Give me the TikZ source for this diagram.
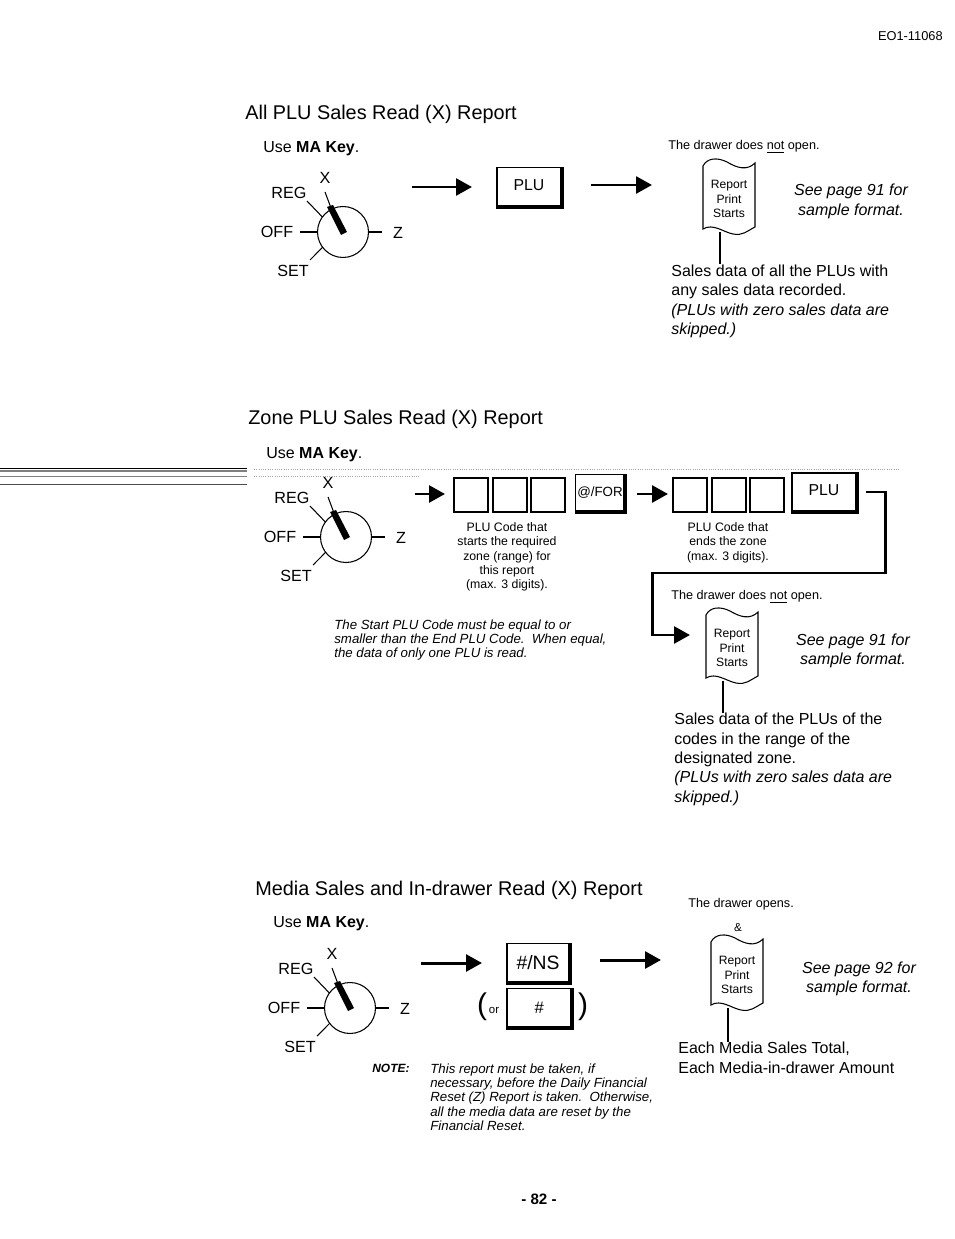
\documentclass[tikz,border=0pt]{standalone}
\usepackage{fontspec}
\setmainfont{Liberation Sans}
\usetikzlibrary{arrows.meta}

\tikzset{
  heading/.style={inner sep=0pt,anchor=west,font=\fontsize{11.3}{13}\selectfont},
  body/.style={inner sep=0pt,anchor=north west,align=left,font=\fontsize{9.1}{11}\selectfont},
  tiny/.style={inner sep=0pt,anchor=west,font=\fontsize{7.2}{8.1}\selectfont},
  codenote/.style={inner sep=0pt,anchor=north,align=center,font=\fontsize{7}{8.1}\selectfont},
  slanted/.style={inner sep=0pt,anchor=north west,align=left,font=\fontsize{7.55}{8.1}\selectfont\itshape},
  seepage/.style={inner sep=0pt,align=center,font=\fontsize{9.1}{11}\selectfont\itshape},
  digit/.style={draw,line width=0.7pt,minimum width=0.68cm,minimum height=0.68cm,inner sep=0pt},
  keycap/.style={draw,line width=0.8pt,inner sep=0pt,font=\fontsize{9}{11}\selectfont},
  plukey/.style={keycap,minimum width=1.28cm,text height=6.5pt,text depth=2.5pt},
  keyshade/.style={line width=2.2pt},
  flow/.style={line width=1.7pt,-{Triangle[length=9pt,width=9.5pt]}},
  pics/keydial/.style={code={
    \node[draw,circle,line width=0.6pt,outer sep=0pt,minimum size=1.02cm,inner sep=0pt] (-dial) at (0,0) {};
    \fill (-2,3) -- (-16,-25) -- (-10,-27) -- (4,0) -- cycle;
    \draw[line width=0.6pt] (-12,-24) -- (-18,-40);
    \draw[line width=0.6pt] (-dial.144) -- (-36,-31);
    \draw[line width=0.6pt] (-dial.180) -- (-43,0);
    \draw[line width=0.6pt] (-dial.0) -- (39,0);
    \draw[line width=0.6pt] (-dial.217) -- (-33,28);
    \node[inner sep=0pt,font=\fontsize{9.2}{11}\selectfont] (-x) at (-18,-54) {X};
    \node[inner sep=0pt,font=\fontsize{9.2}{11}\selectfont] (-reg) at (-54,-39) {REG};
    \node[inner sep=0pt,font=\fontsize{9.2}{11}\selectfont] (-off) at (-66,0) {OFF};
    \node[inner sep=0pt,font=\fontsize{9.2}{11}\selectfont] (-z) at (55,1) {Z};
    \node[inner sep=0pt,font=\fontsize{9.2}{11}\selectfont] (-set) at (-50,39) {SET};
  }},
  pics/printslip/.style={code={
    \draw[line width=0.6pt] (0,6) .. controls (4,-2) and (14,-3) .. (24,2)
      .. controls (34,8) and (44,11) .. (52,3) -- (52,67)
      .. controls (44,71) and (40,76) .. (30,74)
      .. controls (20,72) and (10,63) .. (0,69) -- cycle;
    \node[inner sep=0pt,align=center,font=\fontsize{6.9}{8.1}\selectfont] (-txt) at (26,39) {Report\\Print\\Starts};
  }}
}

\begin{document}
\begin{tikzpicture}[x=0.02cm,y=-0.02cm]
\useasboundingbox (0,0) rectangle (954,1239);
\fill[white] (0,0) rectangle (954,1239);

% page furniture
\node[inner sep=0pt,anchor=east,font=\fontsize{7.3}{8}\selectfont] (docno) at (943,36) {EO1-11068};
\node[inner sep=0pt,font=\fontsize{8.6}{10}\selectfont\bfseries] (pageno) at (539,1199) {- 82 -};

% scan lines on the left
\draw[line width=0.5pt] (0,468.5) -- (247,468.5);
\draw[gray,line width=0.9pt] (0,471) -- (247,471);
\draw[gray,line width=0.4pt] (0,476) -- (247,476);
\draw[line width=0.4pt,black!70] (0,484) -- (247,484);
\draw[black!35,line width=0.3pt,densely dotted] (254,469) -- (900,469);
\draw[black!35,line width=0.3pt,densely dotted] (254,476) -- (420,476);

% all plu report
\node[heading] (titlea) at (245,114) {All PLU Sales Read (X) Report};
\node[body,anchor=west] (usea) at (263,149) {Use \textbf{MA Key}.};
\pic (diala) at (343,232) {keydial};
\coordinate (a0) at (412,187);
\coordinate (a1) at (472,187);
\draw[flow] (a0) -- (a1);
\node[plukey,minimum height=0.78cm] (plua) at (529,187) {PLU};
\coordinate (a2) at (591,185);
\coordinate (a3) at (652,185);
\draw[flow] (a2) -- (a3);
\node[tiny] (opena) at (668,147) {The drawer does \underline{not} open.};
\pic (slipa) at (703,160) {printslip};
\node[seepage] (seea) at (851,201.5) {See page 91 for\\sample format.};
\node[body] (salesa) at (671,264.5) {Sales data of all the PLUs with\\any sales data recorded.\\\textit{(PLUs with zero sales data are}\\\textit{skipped.)}};
\coordinate (a4) at (720,232);
\draw[line width=0.7pt] (a4) -- (salesa.north west -| a4);

% zone plu report
\node[heading] (titleb) at (248,419) {Zone PLU Sales Read (X) Report};
\node[body,anchor=west] (useb) at (266,455) {Use \textbf{MA Key}.};
\pic (dialb) at (346,537) {keydial};
\coordinate (b0) at (415,494);
\coordinate (b1) at (445,494);
\draw[flow] (b0) -- (b1);
\node[digit] (starta) at (471,495) {};
\node[digit] (startb) at (510,495) {};
\node[digit] (startc) at (548,495) {};
\node[keycap,minimum width=0.98cm,minimum height=0.74cm,font=\fontsize{7.6}{9}\selectfont] (forkey) at (600,493) {@/FOR};
\coordinate (b2) at (637,494);
\coordinate (b3) at (668,494);
\draw[flow] (b2) -- (b3);
\node[digit] (enda) at (690,495) {};
\node[digit] (endb) at (729,495) {};
\node[digit] (endc) at (767,495) {};
\node[plukey,minimum height=0.76cm] (plub) at (824,492) {PLU};
\node[codenote] (notea) at (507,522.5) {PLU Code that\\starts the required\\zone (range) for\\this report\\(max. 3 digits).};
\node[codenote] (noteb) at (728,522.5) {PLU Code that\\ends the zone\\(max. 3 digits).};
\node[slanted] (startnote) at (334,619.5) {The Start PLU Code must be equal to or\\smaller than the End PLU Code.\ \ When equal,\\the data of only one PLU is read.};
\node[tiny] (openb) at (671,597) {The drawer does \underline{not} open.};
\pic (slipb) at (706,609) {printslip};
\coordinate (b4) at (866,492);
\coordinate (b5) at (885,573);
\coordinate (b6) at (652,573);
\coordinate (b7) at (690,635);
\draw[flow] (b4) -| (b5) -- (b6) |- (b7);
\node[seepage] (seeb) at (853,651) {See page 91 for\\sample format.};
\node[body] (salesb) at (674,713) {Sales data of the PLUs of the\\codes in the range of the\\designated zone.\\\textit{(PLUs with zero sales data are}\\\textit{skipped.)}};
\coordinate (b8) at (723,681);
\draw[line width=0.7pt] (b8) -- (salesb.north west -| b8);

% media report
\node[heading] (titlec) at (255,890) {Media Sales and In-drawer Read (X) Report};
\node[body,anchor=west] (usec) at (273,924) {Use \textbf{MA Key}.};
\pic (dialc) at (350,1008) {keydial};
\coordinate (c0) at (421,963);
\coordinate (c1) at (482,963);
\draw[flow] (c0) -- (c1);
\node[keycap,minimum width=1.24cm,minimum height=0.78cm,font=\fontsize{11}{13}\selectfont] (nskey) at (538,963) {\#/NS};
\coordinate (c2) at (600,960);
\coordinate (c3) at (661,960);
\draw[flow] (c2) -- (c3);
\node[keycap,minimum width=1.28cm,minimum height=0.78cm,font=\fontsize{9.5}{11}\selectfont\itshape] (numkey) at (539,1008) {\#};
\node[inner sep=0pt,font=\fontsize{17}{19}\selectfont] (parl) at (482,1007) {(};
\node[inner sep=0pt,font=\fontsize{6.5}{8}\selectfont] (ortxt) at (494,1010) {or};
\node[inner sep=0pt,font=\fontsize{17}{19}\selectfont] (parr) at (583,1007) {)};
\node[tiny] (openc) at (688,904) {The drawer opens.};
\node[inner sep=0pt,font=\fontsize{6.6}{8}\selectfont] (amp) at (738,928) {\&};
\pic (slipc) at (711,936) {printslip};
\node[seepage] (seec) at (859,979) {See page 92 for\\sample format.};
\node[body] (salesc) at (678,1042) {Each Media Sales Total,\\Each Media-in-drawer Amount};
\coordinate (c4) at (728,1008);
\draw[line width=0.7pt] (c4) -- (salesc.north west -| c4);
\node[inner sep=0pt,anchor=north west,font=\fontsize{6.8}{8}\selectfont\bfseries\itshape] (notelbl) at (372,1063.5) {NOTE:};
\node[slanted] (notec) at (430,1063.5) {This report must be taken, if\\necessary, before the Daily Financial\\Reset (Z) Report is taken.\ \ Otherwise,\\all the media data are reset by the\\Financial Reset.};

\foreach \k in {plua,forkey,plub,nskey,numkey}
  \draw[keyshade] (\k.north east) -- (\k.south east) -- (\k.south west);
\end{tikzpicture}
\end{document}
